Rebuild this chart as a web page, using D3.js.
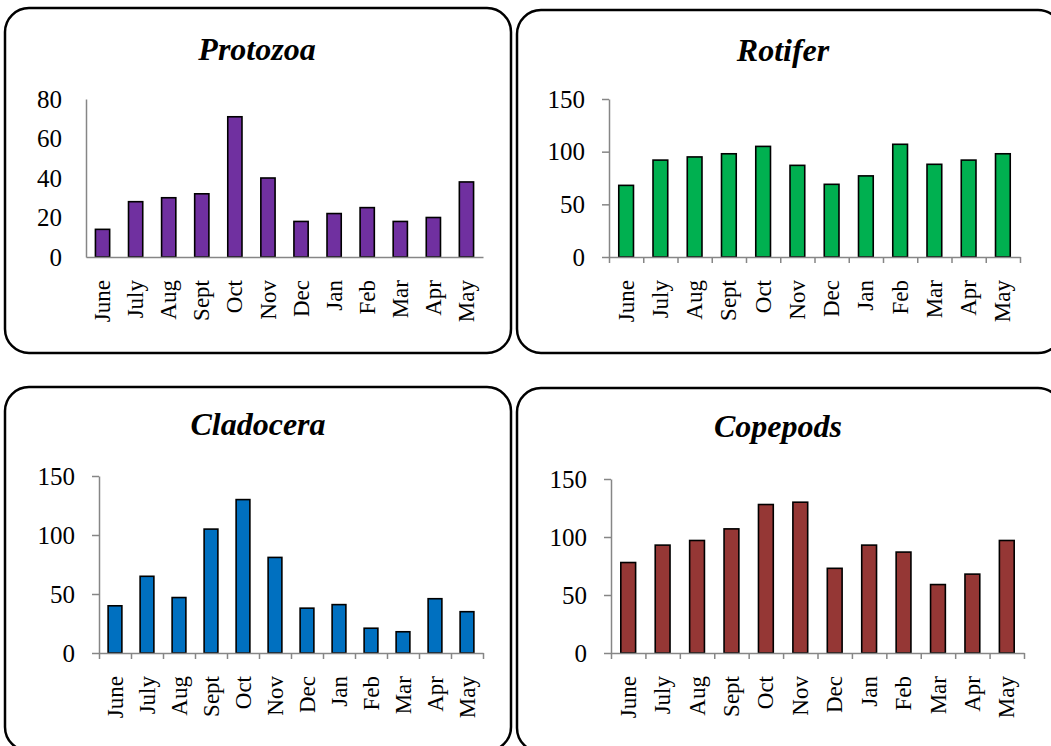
<!DOCTYPE html>
<html>
<head>
<meta charset="utf-8">
<script src="https://cdn.jsdelivr.net/npm/d3@7"></script>
<style>
  body { margin: 0; background: #fff; }
  svg { display: block; }
  text { font-family: "Liberation Serif", "Times New Roman", serif; fill: #000; }
</style>
</head>
<body>
<div class="container"></div>
<script>
var months = ["June","July","Aug","Sept","Oct","Nov","Dec","Jan","Feb","Mar","Apr","May"];

var protozoa  = [14, 28, 30, 32, 71, 40, 18, 22, 25, 18, 20, 38];
var rotifer   = [68, 92, 95, 98, 105, 87, 69, 77, 107, 88, 92, 98];
var cladocera = [40, 65, 47, 105, 130, 81, 38, 41, 21, 18, 46, 35];
var copepods  = [78, 93, 97, 107, 128, 130, 73, 93, 87, 59, 68, 97];

var protozoaTicks = [0, 20, 40, 60, 80];
var otherTicks = [0, 50, 100, 150];

const WIDTH = 1051;
const HEIGHT = 746;

var svg = d3.select('.container').append('svg')
	.attr('width', WIDTH)
	.attr('height', HEIGHT);

// one entry per panel: box, plot area and colour
var panels = [
	{title: "Protozoa", values: protozoa, ticks: protozoaTicks, max: 80, color: "#7030A0", tickMarks: false,
	 box: [5, 8, 506, 345], x0: 86, x1: 483, yTop: 99, yBase: 257, tx: 257, ty: 60},
	{title: "Rotifer", values: rotifer, ticks: otherTicks, max: 150, color: "#00B050", tickMarks: true,
	 box: [517, 10, 545, 343], x0: 609, x1: 1020, yTop: 99, yBase: 257, tx: 783, ty: 61},
	{title: "Cladocera", values: cladocera, ticks: otherTicks, max: 150, color: "#0070C0", tickMarks: true,
	 box: [5, 387, 506, 364], x0: 99, x1: 483, yTop: 476, yBase: 653, tx: 258, ty: 435},
	{title: "Copepods", values: copepods, ticks: otherTicks, max: 150, color: "#953735", tickMarks: true,
	 box: [517, 388, 545, 364], x0: 611, x1: 1024, yTop: 479, yBase: 653, tx: 778, ty: 437}
];

var drawPanel = function(p){
	var g = svg.append('g');

	g.append('rect')
		.attr('x', p.box[0]).attr('y', p.box[1])
		.attr('width', p.box[2]).attr('height', p.box[3])
		.attr('rx', 24).attr('ry', 24)
		.attr('fill', 'none')
		.attr('stroke', '#000')
		.attr('stroke-width', 2.5);

	g.append('text')
		.attr('x', p.tx).attr('y', p.ty)
		.attr('text-anchor', 'middle')
		.style('font-size', '32px')
		.style('font-weight', 'bold')
		.style('font-style', 'italic')
		.text(p.title);

	var xScale = d3.scaleBand()
		.domain(months)
		.range([p.x0, p.x1])
		.paddingInner(0.57)
		.paddingOuter(0.285);

	var edgeScale = d3.scaleLinear()
		.domain([0, months.length])
		.range([p.x0, p.x1]);

	var yScale = d3.scaleLinear()
		.domain([0, p.max])
		.range([p.yBase, p.yTop]);

	// y axis
	var yAxis = d3.axisLeft(yScale)
		.tickValues(p.ticks)
		.tickSizeOuter(0)
		.tickSizeInner(p.tickMarks ? 7 : 0)
		.tickPadding(p.tickMarks ? 17 : 24);

	var yg = g.append('g')
		.attr('transform', 'translate(' + p.x0 + ',0)')
		.call(yAxis);
	yg.selectAll('text').style('font-size', '25px');

	// bars
	g.selectAll('rect.bar').data(p.values)
		.enter().append('rect')
		.classed('bar', true)
		.attr('x', function(d, i){ return xScale(months[i]); })
		.attr('y', function(d){ return yScale(d); })
		.attr('width', xScale.bandwidth())
		.attr('height', function(d){ return p.yBase - yScale(d); })
		.attr('fill', p.color)
		.attr('stroke', '#000')
		.attr('stroke-width', 1.6);

	// x axis line + category boundary ticks
	var edgeAxis = d3.axisBottom(edgeScale)
		.tickValues(d3.range(months.length + 1))
		.tickFormat('')
		.tickSizeOuter(0)
		.tickSizeInner(p.tickMarks ? 6 : 0);

	var eg = g.append('g')
		.attr('transform', 'translate(0,' + p.yBase + ')')
		.call(edgeAxis);

	// month labels
	var xAxis = d3.axisBottom(xScale).tickSize(0);
	var xg = g.append('g')
		.attr('transform', 'translate(0,' + p.yBase + ')')
		.call(xAxis);
	xg.select('.domain').remove();
	xg.selectAll('text')
		.style('font-size', '23px')
		.attr('transform', 'rotate(-90)')
		.attr('text-anchor', 'end')
		.attr('x', -23)
		.attr('y', 0)
		.attr('dy', '0.33em');

	[yg, eg].forEach(function(a){
		a.selectAll('.domain, line')
			.attr('stroke', '#868686')
			.attr('stroke-width', 1.5);
	});
};

panels.forEach(drawPanel);
</script>
</body>
</html>
